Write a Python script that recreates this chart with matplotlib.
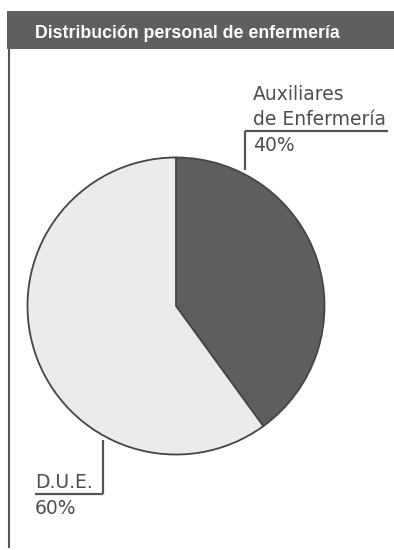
import matplotlib.pyplot as plt
from matplotlib.patches import Rectangle

title = "Distribución personal de enfermería"
categories = ["Auxiliares\nde Enfermería", "D.U.E."]
shares = [40, 60]
colors = ["#5e5e5e", "#ebebed"]

W, H = 394, 550
fig = plt.figure(figsize=(W / 100, H / 100), dpi=100)
fig.patch.set_facecolor("white")

# overlay axes in pixel units (y downwards) for frame, title and labels
ax = fig.add_axes([0, 0, 1, 1])
ax.set_xlim(0, W)
ax.set_ylim(H, 0)
ax.axis("off")

# pie axes: centre (176, 306), radius 150 px
cx, cy, r = 176, 306, 150
pax = fig.add_axes([(cx - r) / W, 1 - (cy + r) / H, 2 * r / W, 2 * r / H])
wedges, _ = pax.pie(shares, colors=colors, startangle=90, counterclock=False,
                    wedgeprops=dict(edgecolor="#454545", linewidth=1.3))
pax.set_xlim(-1.01, 1.01)
pax.set_ylim(-1.01, 1.01)
pax.axis("off")

# title bar
ax.add_patch(Rectangle((7, 11), W - 7, 38, facecolor="#5f5f5f", edgecolor="none"))
ax.text(35, 38, title, color="white", fontsize=12.8, fontweight="bold",
        family="Liberation Sans", va="baseline", ha="left")

# left rule
ax.plot([9, 9], [49, 548], color="#555555", lw=1.5, solid_capstyle="butt")

txt = dict(color="#4e4e4e", fontsize=13.5, family="DejaVu Sans", va="baseline", ha="left")
line = dict(color="#555555", lw=1.6, solid_capstyle="butt")

# label for first slice (top right)
first, second = categories[0].split("\n")
ax.text(253, 100, first, **txt)
ax.text(253, 125, second, **txt)
ax.text(253, 151, f"{shares[0]}%", **txt)
ax.plot([245, 388], [131, 131], **line)
ax.plot([245, 245], [131, 170], **line)

# label for second slice (bottom left)
ax.text(35, 488, categories[1], **txt)
ax.text(35, 514, f"{shares[1]}%", **txt)
ax.plot([35, 103], [494, 494], **line)
ax.plot([103, 103], [440, 494], **line)

fig.savefig("out.png", dpi=100, facecolor="white")
